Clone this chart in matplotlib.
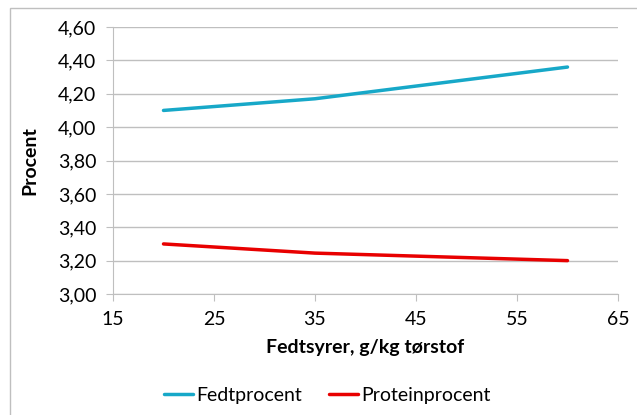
import matplotlib.pyplot as plt
from matplotlib.patches import Rectangle

# data
fedtsyrer = [20, 35, 60]
fedtprocent = [4.10, 4.17, 4.36]
proteinprocent = [3.30, 3.245, 3.20]

x_ticks = [15, 25, 35, 45, 55, 65]
y_ticks = [3.00, 3.20, 3.40, 3.60, 3.80, 4.00, 4.20, 4.40, 4.60]

plt.rcParams['font.family'] = ['Lato', 'DejaVu Sans']

fig = plt.figure(figsize=(6.37, 4.15), dpi=100)
ax = fig.add_axes([113/637, 1 - 294/415, (618-113)/637, (294-27)/415])

# outer chart border
fig.patches.append(Rectangle((10/637, -0.1), 1.1, 1 - 8/415 + 0.1, transform=fig.transFigure,
                             fill=False, edgecolor='#BFBFBF', lw=1))

ax.plot(fedtsyrer, fedtprocent, color='#17A8C8', lw=2.5, label='Fedtprocent',
        solid_capstyle='round')
ax.plot(fedtsyrer, proteinprocent, color='#E80000', lw=2.5, label='Proteinprocent',
        solid_capstyle='round')

ax.set_xlim(15, 65)
ax.set_ylim(3.0, 4.6)
ax.set_xticks(x_ticks)
ax.set_yticks(y_ticks)
ax.set_yticklabels([f'{v:.2f}'.replace('.', ',') for v in y_ticks])
ax.grid(axis='y', color='#BFBFBF', lw=1)
ax.set_axisbelow(True)

for s in ['top', 'right']:
    ax.spines[s].set_visible(False)
for s in ['left', 'bottom']:
    ax.spines[s].set_color('#BFBFBF')
ax.tick_params(axis='both', colors='#BFBFBF', labelcolor='black', labelsize=14, length=5)
ax.tick_params(axis='y', pad=7)
ax.tick_params(axis='x', pad=7)

ax.set_xlabel('Fedtsyrer, g/kg tørstof', fontsize=14, fontweight='bold', labelpad=8)
ax.set_ylabel('Procent', fontsize=14, fontweight='bold', labelpad=14)

fig.legend(loc='center', bbox_to_anchor=(327/637, 1 - 395/415), ncol=2, frameon=False,
           fontsize=14, handlelength=1.5, handletextpad=0.15, columnspacing=1.4)

fig.savefig('out.png', dpi=100)
